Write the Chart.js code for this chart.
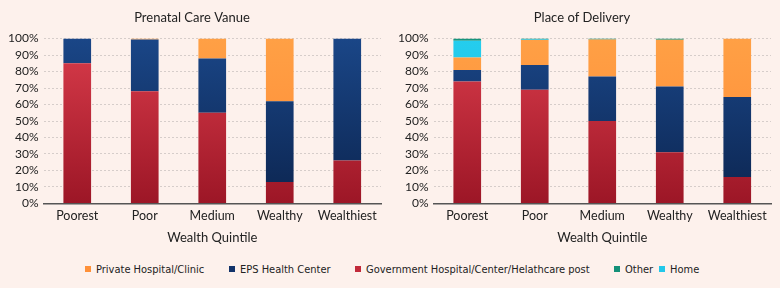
<!DOCTYPE html>
<html>
<head>
<meta charset="utf-8">
<script src="https://cdn.jsdelivr.net/npm/chart.js@4"></script>
<style>
  body { margin: 0; background: #fdf1ec; }
  #wrap { position: relative; width: 780px; height: 288px; background: #fdf1ec; overflow: hidden; }
  .box { position: absolute; top: 0; width: 390px; height: 250px; }
  #legend {
    position: absolute; top: 260px; left: 0; width: 780px; height: 18px;
    font-family: "Liberation Sans Narrow", "DejaVu Sans Condensed", sans-serif;
    font-size: 11px; color: #222;
  }
  #legend span.item { position: absolute; top: 0; height: 18px; display: flex; align-items: center; white-space: nowrap; }
  #legend span.sw { width: 6px; height: 6px; margin-right: 5px; }
</style>
</head>
<body>
<div id="wrap">
  <div class="box" style="left:0"><canvas id="prenatal"></canvas></div>
  <div class="box" style="left:390px"><canvas id="delivery"></canvas></div>
  <div id="legend"></div>
</div>
<script>
const quintiles = ["Poorest", "Poor", "Medium", "Wealthy", "Wealthiest"];

// Prenatal care venue, % per quintile
const prenatalGov = [85, 68, 55, 13, 26];
const prenatalEps = [15, 31.5, 33, 49, 74];
const prenatalPrivate = [0, 0.5, 12, 38, 0];

// Place of delivery, % per quintile
const deliveryGov = [74, 69, 50, 31, 16];
const deliveryEps = [7, 15, 27, 40, 48.6];
const deliveryPrivate = [7.5, 15.2, 22.4, 28.3, 35.4];
const deliveryHome = [10.2, 0.3, 0, 0, 0];
const deliveryOther = [1.3, 0.5, 0.6, 0.7, 0];

const legendLabels = [
  "Private Hospital/Clinic",
  "EPS Health Center",
  "Government Hospital/Center/Helathcare post",
  "Other",
  "Home",
];
const legendColors = ["#ff9038", "#12336a", "#c22a3a", "#149078", "#22c8ea"];

const fills = {
  gov: ["#d93c4b", "#9c1626"],
  eps: ["#1a4687", "#0c2550"],
  priv: ["#ffa045", "#ff8a36"],
  home: ["#25cdee", "#18bde0"],
  other: ["#17957d", "#0f8068"],
};

function grad(key) {
  return (ctx) => {
    const area = ctx.chart.chartArea;
    if (!area) return fills[key][0];
    const g = ctx.chart.ctx.createLinearGradient(0, area.top, 0, area.bottom);
    g.addColorStop(0, fills[key][0]);
    g.addColorStop(1, fills[key][1]);
    return g;
  };
}

function ds(label, data, key) {
  return {
    label: label,
    data: data,
    backgroundColor: grad(key),
    borderWidth: 0,
    barPercentage: 0.41,
    categoryPercentage: 1,
  };
}

function options(title) {
  return {
    animation: false,
    responsive: true,
    maintainAspectRatio: false,
    layout: { padding: { left: 3, right: 9, top: 0, bottom: 4 } },
    plugins: {
      legend: { display: false },
      tooltip: { enabled: false },
      title: {
        display: true,
        text: title,
        color: "#222",
        font: { family: "Lato", size: 13, weight: "normal" },
        padding: { top: 10, bottom: 13 },
      },
    },
    scales: {
      x: {
        stacked: true,
        grid: { display: false, drawTicks: false },
        border: { color: "#555", width: 1.5 },
        ticks: {
          color: "#222",
          font: { family: "Lato", size: 12.5 },
          padding: 5,
          maxRotation: 0,
        },
        title: {
          display: true,
          text: "Wealth Quintile",
          color: "#222",
          font: { family: "Lato", size: 13 },
          padding: { top: 2, bottom: 0 },
        },
      },
      y: {
        stacked: true,
        min: 0,
        max: 100,
        grid: { color: "#d6cdca", drawTicks: false },
        border: { display: true, color: "transparent", dash: [2, 2] },
        ticks: {
          stepSize: 10,
          autoSkip: false,
          color: "#222",
          font: { family: "Lato", size: 12 },
          padding: 5,
          callback: (v) => `${v}%`,
        },
      },
    },
  };
}

// eslint-disable-next-line no-new
new Chart(document.getElementById("prenatal"), {
  type: "bar",
  data: {
    labels: quintiles,
    datasets: [
      ds("Government Hospital/Center/Helathcare post", prenatalGov, "gov"),
      ds("EPS Health Center", prenatalEps, "eps"),
      ds("Private Hospital/Clinic", prenatalPrivate, "priv"),
    ],
  },
  options: options("Prenatal Care Vanue"),
});

// eslint-disable-next-line no-new
new Chart(document.getElementById("delivery"), {
  type: "bar",
  data: {
    labels: quintiles,
    datasets: [
      ds("Government Hospital/Center/Helathcare post", deliveryGov, "gov"),
      ds("EPS Health Center", deliveryEps, "eps"),
      ds("Private Hospital/Clinic", deliveryPrivate, "priv"),
      ds("Home", deliveryHome, "home"),
      ds("Other", deliveryOther, "other"),
    ],
  },
  options: options("Place of Delivery"),
});

// shared legend under both charts, swatches placed as in the original
const swatchX = [85, 229, 355, 614, 659];
const legend = document.getElementById("legend");
legendLabels.forEach((text, i) => {
  const item = document.createElement("span");
  item.className = "item";
  item.style.left = swatchX[i] + "px";
  const sw = document.createElement("span");
  sw.className = "sw";
  sw.style.background = legendColors[i];
  item.appendChild(sw);
  item.appendChild(document.createTextNode(text));
  legend.appendChild(item);
});
</script>
</body>
</html>
